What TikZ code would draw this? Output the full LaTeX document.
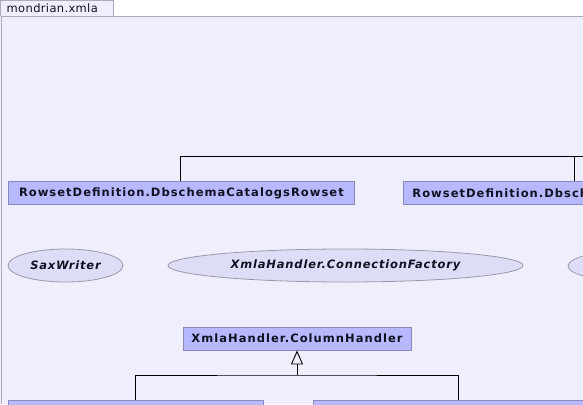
\documentclass[tikz,border=0pt]{standalone}
\usepackage{fontspec}
\setmainfont{DejaVu Sans}
\newfontfamily\boxfont[LetterSpace=9]{DejaVu Sans}
\newfontfamily\ellfont[LetterSpace=7]{DejaVu Sans}
\newfontfamily\tabfont[LetterSpace=3]{DejaVu Sans}
\usetikzlibrary{shapes.geometric,arrows.meta}
\definecolor{panel}{HTML}{EEEEFC}
\definecolor{boxfill}{HTML}{B8B8FF}
\definecolor{boxdraw}{HTML}{8888BB}
\definecolor{ellfill}{HTML}{DDDDF8}
\definecolor{elldraw}{HTML}{9999AA}
\definecolor{frame}{HTML}{AAAABB}
\definecolor{txt}{HTML}{111122}
\begin{document}
\begin{tikzpicture}[x=1pt,y=-1pt,
  cls/.style={draw=boxdraw, fill=boxfill, line width=0.8pt, minimum height=23pt, inner sep=0pt,
    font=\boxfont\fontsize{11.5}{13}\selectfont\bfseries, text=txt},
  ifc/.style={ellipse, draw=elldraw, fill=ellfill, line width=0.8pt, inner sep=0pt, minimum height=33pt,
    font=\ellfont\fontsize{11.5}{13}\selectfont\bfseries\itshape, text=txt},
  conn/.style={draw=black, line width=0.9pt}]
\useasboundingbox (0,0) rectangle (583,404);
\clip (0,0) rectangle (583,404);
\fill[white] (0,0) rectangle (583,404);
\fill[panel] (0,16.5) rectangle (583,404);
\draw[frame, line width=1pt] (1,404) -- (1,16.5) -- (583,16.5);
\draw[frame, fill=panel, line width=1pt] (0.5,16.5) -- (0.5,0.5) -- (113,0.5) -- (113,16.5);
\node[anchor=west, inner sep=0pt, font=\tabfont\fontsize{11.5}{13}\selectfont, text=txt] (tab) at (6.5,8.5) {mondrian.xmla};

\node[cls, minimum width=346, anchor=north west] (b1) at (8,181) {RowsetDefinition.DbschemaCatalogsRowset};
\node[cls, minimum width=342, text width=324, align=left, inner xsep=9pt, anchor=north west] (b2) at (403,181) {RowsetDefinition.Dbsch};

\node[ifc, minimum width=115] (e1) at (65.5,265.5) {SaxWriter};
\node[ifc, minimum width=355] (e2) at (345.5,265.5) {XmlaHandler.ConnectionFactory};
\node[ifc, minimum width=150] (e3) at (643,266) {};

\node[cls, minimum width=228] (ch) at (297,338.5) {XmlaHandler.ColumnHandler};
\node[cls, minimum width=255, anchor=north west] (b5) at (8,400) {};
\node[cls, minimum width=290, anchor=north west] (b6) at (313,400) {};

\coordinate (topr) at (600,156);
\draw[conn] (b1.north) ++(-1,0) |- (topr);
\draw[conn] (b2.north) -- (b2.north |- topr);

\coordinate (j) at (297,375);
\draw[conn] (b5.north) |- (j) -| (b6.north);
\draw[conn, -{Triangle[open, length=14pt, width=12pt]}] (j) -- (ch.south);
\end{tikzpicture}
\end{document}
